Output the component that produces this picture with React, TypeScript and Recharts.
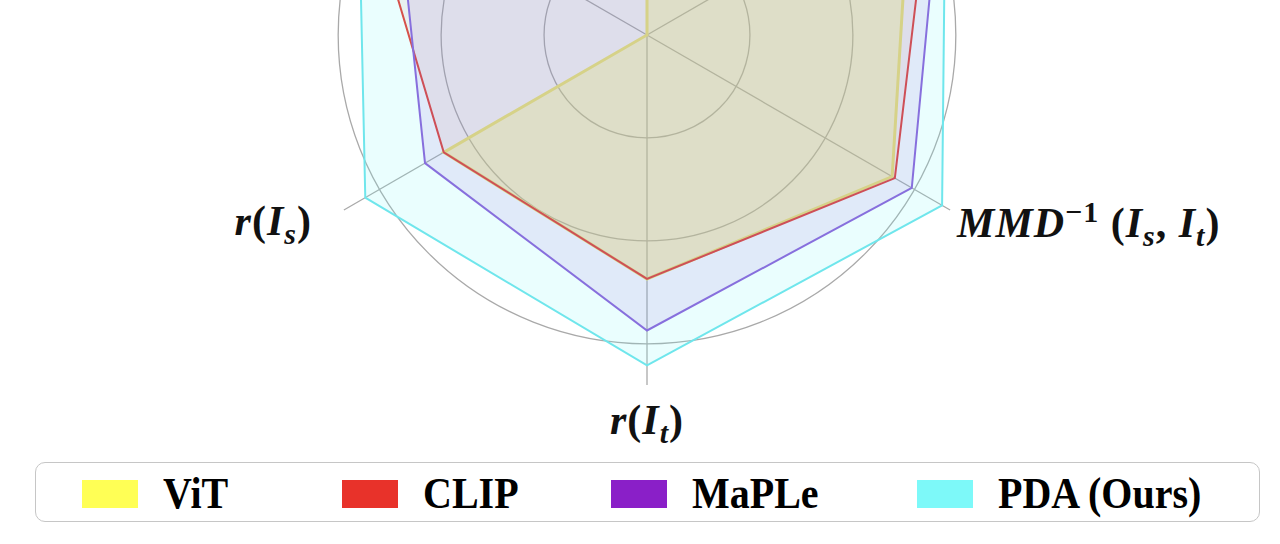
import React from 'react';
import { RadarChart, Radar, PolarGrid, PolarAngleAxis, PolarRadiusAxis } from 'recharts';

// ---- data ----
const CATEGORIES = ['acc_t', 'acc_s', 'mmd_inv', 'r_t', 'r_s', 'sim'];
const VIT = [2.6, 2.95, 2.75, 2.37, 2.28, 0];
const CLIP = [3.0, 3.19, 2.78, 2.37, 2.28, 3.23];
const MAPLE = [3.1, 3.31, 2.97, 2.87, 2.49, 2.81];
const PDA = [3.3, 3.35, 3.31, 3.21, 3.16, 3.24];
const GRID_TICKS = [1, 2, 3];
const R_MAX = 3.4;

const SERIES_NAMES = ['ViT', 'CLIP', 'MaPLe', 'PDA (Ours)'];
const SERIES_KEYS = ['vit', 'clip', 'maple', 'pda'];
const SERIES_COLORS = ['#FFFF55', '#E8322A', '#8A1FC8', '#7DF9F9'];

const rows = CATEGORIES.map((c, i) => ({
  axis: c,
  vit: VIT[i],
  clip: CLIP[i],
  maple: MAPLE[i],
  pda: PDA[i],
}));

const OUTER = 350;
const FONT = '"Liberation Serif", "Times New Roman", serif';
const LABEL_SIZE = 42;
const SUB_SIZE = 30;

const renderLabelContent = (id: string) => {
  switch (id) {
    case 'r_s':
      return [
        <tspan key="a" fontStyle="italic">r</tspan>,
        <tspan key="b">(</tspan>,
        <tspan key="c" fontStyle="italic">I</tspan>,
        <tspan key="d" fontStyle="italic" fontSize={SUB_SIZE} dy={9}>s</tspan>,
        <tspan key="e" dy={-9}>)</tspan>,
      ];
    case 'r_t':
      return [
        <tspan key="a" fontStyle="italic">r</tspan>,
        <tspan key="b">(</tspan>,
        <tspan key="c" fontStyle="italic">I</tspan>,
        <tspan key="d" fontStyle="italic" fontSize={SUB_SIZE} dy={9}>t</tspan>,
        <tspan key="e" dy={-9}>)</tspan>,
      ];
    case 'mmd_inv':
      return [
        <tspan key="a" fontStyle="italic">MMD</tspan>,
        <tspan key="b" fontSize={SUB_SIZE} dy={-15}>−1</tspan>,
        <tspan key="c" dy={15}> (</tspan>,
        <tspan key="d" fontStyle="italic">I</tspan>,
        <tspan key="e" fontStyle="italic" fontSize={SUB_SIZE} dy={9}>s</tspan>,
        <tspan key="f" dy={-9}>, </tspan>,
        <tspan key="g" fontStyle="italic">I</tspan>,
        <tspan key="h" fontStyle="italic" fontSize={SUB_SIZE} dy={9}>t</tspan>,
        <tspan key="i" dy={-9}>)</tspan>,
      ];
    default:
      return null;
  }
};

const AngleTick = (props: any) => {
  const { x, y, payload, textAnchor } = props;
  const content = renderLabelContent(payload.value);
  if (!content) return <g />;
  let dx = 0;
  let dy = 0;
  if (textAnchor === 'end') {
    dx = -25;
    dy = 21;
  } else if (textAnchor === 'start') {
    dx = 0;
    dy = 23;
  } else {
    dy = 41;
  }
  return (
    <text
      x={x + dx}
      y={y + dy}
      textAnchor={textAnchor}
      fontFamily={FONT}
      fontWeight="bold"
      fontSize={LABEL_SIZE}
      fill="#111"
      letterSpacing={1}
    >
      {content}
    </text>
  );
};

const LEGEND_POS = [
  { swatch: 82, text: 163 },
  { swatch: 342, text: 423 },
  { swatch: 611, text: 692 },
  { swatch: 917, text: 998 },
];

export default function App() {
  return (
    <div
      style={{
        position: 'fixed',
        left: 0,
        top: 0,
        width: 1280,
        height: 544,
        background: '#fff',
        overflow: 'hidden',
      }}
    >
      <RadarChart
        width={1280}
        height={544}
        cx={647}
        cy={35}
        outerRadius={OUTER}
        data={rows}
        margin={{ top: 0, right: 0, bottom: 0, left: 0 }}
      >
        <PolarGrid
          gridType="circle"
          polarRadius={GRID_TICKS.map((t) => (t / R_MAX) * OUTER)}
          stroke="#a9a9a9"
          strokeWidth={1.3}
        />
        <PolarAngleAxis dataKey="axis" tick={AngleTick} tickLine={false} axisLine={false} />
        <PolarRadiusAxis domain={[0, R_MAX]} allowDataOverflow tick={false} axisLine={false} />
        <Radar
          dataKey="vit"
          name={SERIES_NAMES[0]}
          stroke="#F5EE70"
          strokeWidth={3}
          fill={SERIES_COLORS[0]}
          fillOpacity={0.3}
          dot={false}
          isAnimationActive={false}
        />
        <Radar
          dataKey="clip"
          name={SERIES_NAMES[1]}
          stroke={SERIES_COLORS[1]}
          strokeWidth={2}
          fill={SERIES_COLORS[1]}
          fillOpacity={0.08}
          dot={false}
          isAnimationActive={false}
        />
        <Radar
          dataKey="maple"
          name={SERIES_NAMES[2]}
          stroke="#8A55D8"
          strokeWidth={2}
          fill={SERIES_COLORS[2]}
          fillOpacity={0.1}
          dot={false}
          isAnimationActive={false}
        />
        <Radar
          dataKey="pda"
          name={SERIES_NAMES[3]}
          stroke="#6FE6EC"
          strokeWidth={2}
          fill={SERIES_COLORS[3]}
          fillOpacity={0.16}
          dot={false}
          isAnimationActive={false}
        />
      </RadarChart>
      <div
        style={{
          position: 'absolute',
          left: 35,
          top: 462,
          width: 1225,
          height: 60,
          border: '1.5px solid #c6c6c6',
          borderRadius: 10,
          boxSizing: 'border-box',
        }}
      />
      {SERIES_NAMES.map((name, i) => (
        <React.Fragment key={SERIES_KEYS[i]}>
          <div
            style={{
              position: 'absolute',
              left: LEGEND_POS[i].swatch,
              top: 480,
              width: 56,
              height: 28,
              background: SERIES_COLORS[i],
            }}
          />
          <div
            style={{
              position: 'absolute',
              left: LEGEND_POS[i].text,
              top: 474.5,
              height: 40,
              lineHeight: '40px',
              fontFamily: FONT,
              fontWeight: 'bold',
              fontSize: 40,
              color: '#000',
              whiteSpace: 'nowrap',
              transform: 'scaleY(1.12)',
              transformOrigin: '0 33.5px',
            }}
          >
            {name}
          </div>
        </React.Fragment>
      ))}
    </div>
  );
}
